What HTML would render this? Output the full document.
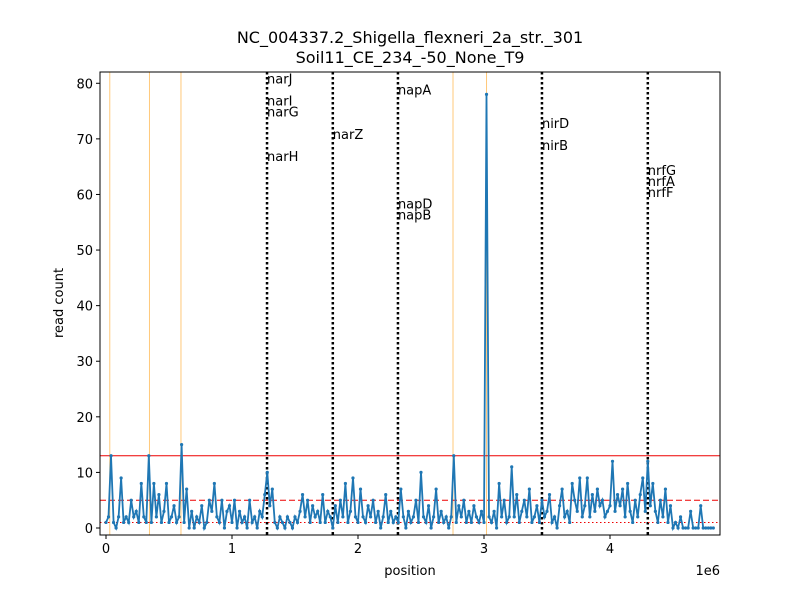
<!DOCTYPE html>
<html><head><meta charset="utf-8"><style>
body{margin:0;background:#fff}
svg text{font-family:"DejaVu Sans","Liberation Sans",sans-serif}
</style></head><body>
<svg id="chart" width="800" height="600" xmlns="http://www.w3.org/2000/svg">
<rect width="800" height="600" fill="#fff"/>
<text x="410" y="43" text-anchor="middle" font-size="16">NC_004337.2_Shigella_flexneri_2a_str._301</text>
<text x="410" y="63" text-anchor="middle" font-size="16">Soil11_CE_234_-50_None_T9</text>
<g id="plot"></g>
</svg>
<script>
const values = [
1,2,13,1,0,2,9,1,2,1, 5,2,3,1,8,2,1,13,1,8, 2,6,1,3,8,1,2,4,1,2, 15,1,7,0,3,0,2,1,4,0,
1,5,3,8,2,1,5,0,3,4, 1,5,0,3,1,2,0,5,1,2, 0,3,2,6,10,4,7,1,0,2, 1,0,2,1,0,2,1,3,6,2,
5,1,4,2,3,1,6,1,3,2, 0,4,1,5,2,8,1,3,9,2, 1,7,2,1,4,2,5,1,3,0, 2,6,1,3,1,2,1,7,2,0,
3,1,2,5,1,10,2,1,4,0, 2,7,1,3,1,2,0,2,13,1, 4,2,5,1,3,1,4,2,1,3, 1,78,2,1,3,0,8,2,5,1,
2,11,2,6,1,3,5,2,7,1, 2,4,1,5,2,3,6,1,2,0, 4,7,2,3,1,8,5,3,9,2, 4,9,2,6,3,7,4,5,2,3,
4,12,3,6,4,7,2,8,3,1, 5,2,6,9,3,12,4,8,3,1, 5,2,7,1,4,0,1,0,2,0, 0,0,3,0,0,0,4,0,0,0, 0,0];
const step = 20000;
const orangeLines = [30000, 345000, 595000, 2754000, 3020000];
const geneLines = [1278000, 1800000, 2317000, 3460000, 4300000];
const geneNames = ["narJ","narI","narG","narH","narZ","napA","napD","napB","nirD","nirB","nrfG","nrfA","nrfF"];
const genePos = [1278000,1278000,1278000,1278000,1800000,2317000,2317000,2317000,3460000,3460000,4300000,4300000,4300000];
const geneY = [80,76,74,66,70,78,57.5,55.5,72,68,63.5,61.5,59.5];
const hLines = [13, 5, 1];
const xTicks = [0,1,2,3,4];
const yTicks = [0,10,20,30,40,50,60,70,80];

const NS="http://www.w3.org/2000/svg";
const L=100,R=720,T=72,B=535;
const X=v=>106+v*126e-6;
const Y=v=>528-v*5.559;
const g=document.getElementById('plot');
function mk(tag,attrs){const e=document.createElementNS(NS,tag);for(const k in attrs)e.setAttribute(k,attrs[k]);g.appendChild(e);return e;}

orangeLines.forEach(p=>{const e=mk('line',{x1:X(p),x2:X(p),y1:T,y2:B,stroke:'#ffc87a','stroke-width':1});

});
geneLines.forEach(p=>{const e=mk('line',{x1:X(p),x2:X(p),y1:T,y2:B,stroke:'#000','stroke-width':2.5,'stroke-dasharray':'2.5,2.5'});

});
const hs=['none','6,3','1.5,2.5'];
hLines.forEach((v,i)=>{const e=mk('line',{x1:L,x2:R,y1:Y(v),y2:Y(v),stroke:'#e00','stroke-width':1,'stroke-dasharray':hs[i]});

});

let d='';values.forEach((v,i)=>{d+=(i?'L':'M')+X(i*step).toFixed(1)+','+Y(v).toFixed(1);});
const path=mk('path',{d:d,fill:'none',stroke:'#1f77b4','stroke-width':1.8});


values.forEach((v,i)=>{const c=mk('circle',{cx:X(i*step),cy:Y(v),r:1.6,fill:'#1f77b4'});

});

geneNames.forEach((n,i)=>{const t=mk('text',{x:X(genePos[i]),y:Y(geneY[i]),'font-size':13});t.textContent=n;

});

const fr=mk('rect',{x:L,y:T,width:R-L,height:B-T,fill:'none',stroke:'#000','stroke-width':1});


xTicks.forEach(v=>{const x=X(v*1e6);mk('line',{x1:x,x2:x,y1:B,y2:B+4,stroke:'#000'});
const t=mk('text',{x:x,y:B+18,'font-size':13,'text-anchor':'middle'});t.textContent=v;

});
yTicks.forEach(v=>{const y=Y(v);mk('line',{x1:L-4,x2:L,y1:y,y2:y,stroke:'#000'});
const t=mk('text',{x:L-7,y:y+5,'font-size':13,'text-anchor':'end'});t.textContent=v;

});
let t=mk('text',{x:410,y:575,'font-size':13,'text-anchor':'middle'});t.textContent='position';


t=mk('text',{x:720,y:575,'font-size':13,'text-anchor':'end'});t.textContent='1e6';


t=mk('text',{x:63,y:303,'font-size':13,'text-anchor':'middle',transform:'rotate(-90 63 303)'});t.textContent='read count';


</script>
</body></html>
